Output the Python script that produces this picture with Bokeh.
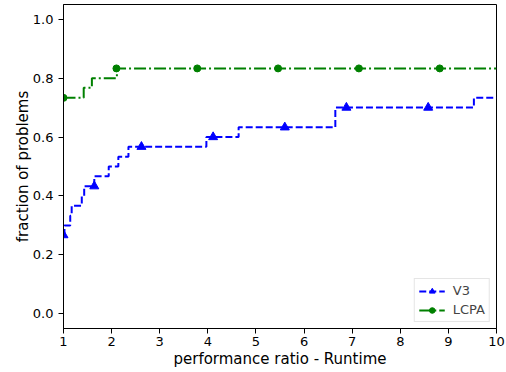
from bokeh.plotting import figure
from bokeh.models import Range1d, Legend, LegendItem, FixedTicker, CustomJSTickFormatter
from bokeh.embed import file_html
from bokeh.resources import INLINE

# V3 step data
v3_x = [1.0, 1.02, 1.14, 1.17, 1.38, 1.43, 1.64, 1.94, 2.14, 2.35, 3.97, 4.64, 6.65, 9.53, 10.0]
v3_y = [0.267, 0.300, 0.333, 0.367, 0.400, 0.433, 0.467, 0.500, 0.533, 0.567, 0.600, 0.633, 0.700, 0.733, 0.733]
v3_mx = [1.0, 1.64, 2.62, 4.11, 5.6, 6.88, 8.58]
v3_my = [0.267, 0.433, 0.567, 0.600, 0.633, 0.700, 0.700]

# LCPA step data
lc_x = [1.0, 1.42, 1.59, 2.11, 10.0]
lc_y = [0.733, 0.767, 0.800, 0.833, 0.833]
lc_mx = [1.0, 2.1, 3.78, 5.46, 7.14, 8.82]
lc_my = [0.733, 0.833, 0.833, 0.833, 0.833, 0.833]

x_ticks = [1, 2, 3, 4, 5, 6, 7, 8, 9, 10]
y_ticks = [0.0, 0.2, 0.4, 0.6, 0.8, 1.0]

FONT = "DejaVu Sans"

p = figure(width=506, height=372, output_backend="svg", toolbar_location=None,
           x_range=Range1d(1, 10), y_range=Range1d(-0.05, 1.05),
           min_border_left=63, min_border_right=10, min_border_top=4, min_border_bottom=44)
p.grid.visible = False
p.outline_line_color = "black"
p.outline_line_width = 1
p.background_fill_color = "white"
p.border_fill_color = "white"

for ax in (p.xaxis[0], p.yaxis[0]):
    ax.major_label_text_font = FONT
    ax.major_label_text_font_size = "13px"
    ax.major_label_text_color = "black"
    ax.axis_label_text_font = FONT
    ax.axis_label_text_font_size = "15px"
    ax.axis_label_text_font_style = "normal"
    ax.axis_label_text_color = "black"
    ax.minor_tick_line_color = None
    ax.major_tick_out = 5
    ax.major_tick_in = 0
    ax.axis_line_color = "black"
    ax.major_tick_line_color = "black"

p.xaxis.ticker = FixedTicker(ticks=x_ticks)
p.yaxis.ticker = FixedTicker(ticks=y_ticks)
p.yaxis.formatter = CustomJSTickFormatter(code="return tick.toFixed(1);")
p.xaxis.axis_label = "performance ratio - Runtime"
p.yaxis.axis_label = "fraction of problems"
p.xaxis.major_label_standoff = 3
p.xaxis.axis_label_standoff = 1
p.yaxis.axis_label_standoff = -2

v3_line = p.step(v3_x, v3_y, mode="after", line_color="#0000ff", line_width=2, line_dash="7 3")
v3_mk = p.scatter(v3_mx, v3_my, marker="triangle", size=9, fill_color="#0000ff", line_color="#0000ff")
lc_line = p.step(lc_x, lc_y, mode="after", line_color="#008000", line_width=2, line_dash="12 3 2 3")
lc_mk = p.scatter(lc_mx, lc_my, marker="circle", size=7, fill_color="#008000", line_color="#008000")

legend = Legend(items=[LegendItem(label="V3", renderers=[v3_line, v3_mk]),
                       LegendItem(label="LCPA", renderers=[lc_line, lc_mk])],
                location="bottom_right")
legend.label_text_font = FONT
legend.label_text_font_size = "13px"
legend.border_line_color = "#cccccc"
legend.border_line_width = 1
legend.glyph_width = 26
legend.glyph_height = 14
legend.label_height = 14
legend.spacing = 4
legend.padding = 4
legend.margin = 6
legend.label_standoff = 8
p.add_layout(legend)

open("out.html", "w").write(file_html(p, INLINE))
